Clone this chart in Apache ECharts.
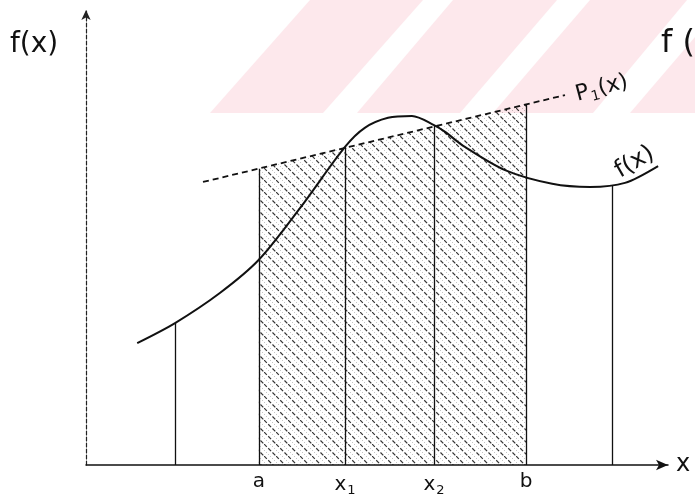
<!DOCTYPE html>
<html>
<head>
<meta charset="utf-8">
<script src="https://cdn.jsdelivr.net/npm/echarts@6/dist/echarts.min.js"></script>
<style>
html, body { margin: 0; padding: 0; background: #fff; }
#chart { width: 695px; height: 504px; }
</style>
</head>
<body>
<div id="chart"></div>
<script>
// f(x) (x and y both on a 0..100 scale)
const curveX = [8.8, 15.3, 23.0, 29.7, 36.8, 44.5, 47.9, 51.9, 56.0, 59.8, 61.7, 65.1, 72.0, 80.1, 86.6, 92.6, 98.3];
const curveY = [26.8, 31.2, 37.8, 45.1, 56.5, 69.9, 74.1, 76.3, 76.7, 74.7, 73.2, 69.9, 64.8, 61.8, 61.1, 62.0, 65.7];

// P1(x), the dashed straight line
const p1X = [20.1, 82.3];
const p1Y = [62.2, 81.3];

// nodes on the x axis and the height of their vertical lines
const nodeLabels = ['a', 'x1', 'x2', 'b'];
const nodeX = [29.7, 44.5, 59.8, 75.6];
const nodeTop = [65.1, 69.9, 74.7, 79.2];

// the two extra verticals outside [a, b]
const sideX = [15.3, 90.4];
const sideTop = [31.2, 61.3];

const chart = echarts.init(document.getElementById('chart'));

// hatch pattern for the area under P1 on [a, b]
function makeHatch() {
	const s = 12;
	const c = document.createElement('canvas');
	c.width = s;
	c.height = s;
	const ctx = c.getContext('2d');
	ctx.strokeStyle = 'rgba(0,0,0,0.8)';
	ctx.lineWidth = 1.2;
	ctx.setLineDash([4, 2]);
	ctx.beginPath();
	ctx.moveTo(0, 0);
	ctx.lineTo(s, s);
	ctx.stroke();
	ctx.strokeStyle = 'rgba(0,0,0,0.4)';
	ctx.lineWidth = 0.8;
	ctx.setLineDash([1, 2]);
	ctx.beginPath();
	ctx.moveTo(s / 2, 0);
	ctx.lineTo(s, s / 2);
	ctx.moveTo(0, s / 2);
	ctx.lineTo(s / 2, s);
	ctx.stroke();
	return c;
}

const verticals = nodeX.map((x, i) => ({ coords: [[x, 0], [x, nodeTop[i]]] }))
	.concat(sideX.map((x, i) => ({ coords: [[x, 0], [x, sideTop[i]]] })));

const labelFont = 'DejaVu Sans';
const tickRich = {
	m: { fontSize: 20, color: '#111', fontFamily: labelFont },
	s: { fontSize: 13, color: '#111', fontFamily: labelFont, padding: [12, 0, 0, 1] }
};
const p1Rich = {
	m: { fontSize: 22, color: '#111', fontFamily: labelFont },
	s: { fontSize: 14, color: '#111', fontFamily: labelFont, padding: [12, 0, 0, 1] }
};

// stripes of the pink watermark at the top
const pink = '#fde8ec';
const stripes = [
	[[210, 113], [323, 113], [423, 0], [310, 0]],
	[[357, 113], [460, 113], [557, 0], [453, 0]],
	[[493, 113], [593, 113], [687, 0], [590, 0]],
	[[630, 113], [695, 113], [695, 37]]
];

const option = {
	backgroundColor: '#fff',
	animation: false,
	title: {
		text: 'f(x)',
		left: 5,
		top: 26,
		textStyle: { fontSize: 28, fontWeight: 'normal', color: '#111', fontFamily: labelFont }
	},
	graphic: stripes.map(p => ({
		type: 'polygon',
		z: -10,
		silent: true,
		shape: { points: p },
		style: { fill: pink }
	})).concat([{
		type: 'text',
		left: 661,
		top: 28,
		z: 10,
		style: { text: 'f (x)', fontSize: 32, fill: '#111', fontFamily: labelFont }
	}]),
	grid: { left: 86, right: 27, top: 10, bottom: 39 },
	xAxis: {
		type: 'value',
		min: 0,
		max: 100,
		name: 'x',
		nameLocation: 'end',
		nameGap: 8,
		nameTextStyle: { fontSize: 24, color: '#111', fontFamily: labelFont, verticalAlign: 'middle' },
		axisLine: {
			lineStyle: { color: '#111', width: 1.5 },
			symbol: ['none', 'arrow'],
			symbolSize: [8, 12]
		},
		axisTick: { show: false },
		splitLine: { show: false },
		axisLabel: {
			customValues: nodeX,
			margin: 7,
			formatter: v => {
				const name = nodeLabels[nodeX.indexOf(v)] || '';
				return name.length > 1 ? '{m|' + name[0] + '}{s|' + name.slice(1) + '}' : '{m|' + name + '}';
			},
			rich: tickRich
		}
	},
	yAxis: {
		type: 'value',
		min: 0,
		max: 100,
		axisLine: {
			lineStyle: { color: '#222', width: 1.2, type: [4, 2] },
			symbol: ['none', 'arrow'],
			symbolSize: [7, 10]
		},
		axisTick: { show: false },
		axisLabel: { show: false },
		splitLine: { show: false }
	},
	series: [
		{
			name: 'area',
			type: 'line',
			data: [[nodeX[0], nodeTop[0]], [nodeX[3], nodeTop[3]]],
			symbol: 'none',
			lineStyle: { width: 0 },
			areaStyle: { color: { image: makeHatch(), repeat: 'repeat' }, opacity: 1 },
			z: 1
		},
		{
			name: 'P1(x)',
			type: 'line',
			data: p1X.map((x, i) => [x, p1Y[i]]),
			symbol: 'none',
			lineStyle: { color: '#111', width: 1.8, type: [6, 4] },
			endLabel: {
				show: true,
				formatter: '{m|P}{s|1}{m|(x)}',
				rotate: 15,
				offset: [3, 1],
				rich: p1Rich
			},
			z: 3
		},
		{
			name: 'f(x)',
			type: 'line',
			smooth: 0.3,
			data: curveX.map((x, i) => [x, curveY[i]]),
			symbol: 'none',
			lineStyle: { color: '#111', width: 2 },
			endLabel: {
				show: true,
				formatter: 'f(x)',
				rotate: 30,
				offset: [-46, -19],
				fontSize: 24,
				color: '#111',
				fontFamily: labelFont
			},
			z: 4
		},
		{
			name: 'verticals',
			type: 'lines',
			coordinateSystem: 'cartesian2d',
			data: verticals,
			lineStyle: { color: '#111', width: 1.3, opacity: 1 },
			z: 3
		}
	]
};

chart.setOption(option);
</script>
</body>
</html>
